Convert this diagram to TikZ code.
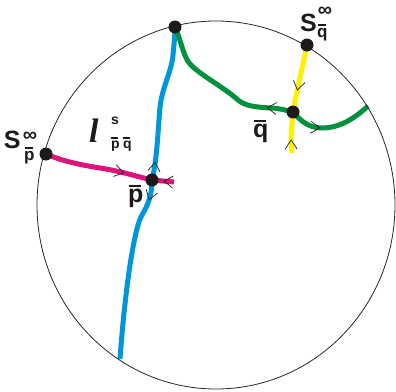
\documentclass[tikz,border=0pt]{standalone}
\usepackage{fontspec}
\setmainfont{Liberation Sans}
\newfontfamily\serifit{Liberation Serif}
\usetikzlibrary{decorations.markings}
\definecolor{cblue}{RGB}{0,150,220}
\definecolor{cgreen}{RGB}{0,145,60}
\definecolor{cmag}{RGB}{222,20,125}
\definecolor{cyel}{RGB}{255,240,0}
\definecolor{ink}{RGB}{30,26,26}
\newcommand\obar[2][0.8]{\setbox0\hbox{#2}\vbox{\offinterlineskip\hbox to \wd0{\hskip0.05\wd0\vrule height 2pt depth 0pt width #1\wd0\hfil}\kern 1.8pt\box0}}
\pgfdeclarelayer{back}
\pgfsetlayers{back,main}
\tikzset{
  dot/.style={circle,fill=ink,inner sep=0pt,minimum size=13pt},
  manifold/.style={line width=5pt},
  chev/.style={decoration={markings,mark=at position #1 with {\draw[ink,line width=0.7pt,line cap=butt,line join=miter] (-9pt,6pt) -- (0pt,0pt) -- (-9pt,-6pt);}},postaction={decorate}},
  lab/.style={inner sep=0pt,outer sep=0pt,font=\bfseries,text=ink},
}
\begin{document}
\begin{tikzpicture}[x=1pt,y=-1pt]
\useasboundingbox (0,0) rectangle (396,391);
% boundary circle
\draw[black!85,line width=0.8pt] (216,205) ellipse [x radius=179, y radius=184];
% points
\node[dot] (T) at (175,27) {};
\node[dot] (Sp) at (46,154) {};
\node[dot] (P) at (152,180) {};
\node[dot] (Q) at (293,112) {};
\node[dot] (Sq) at (307,45) {};
\coordinate (Bend) at (120,359);
\coordinate (Mend) at (174,182);
\coordinate (Gend) at (368,106);
\coordinate (Yend) at (292,153);
\begin{pgfonlayer}{back}
% blue
\draw[manifold,cblue,chev=18pt] (P.center) .. controls (157,160) and (158,130) .. (160,107) .. controls (162,88) and (172,70) .. (173,55) .. controls (174,45) and (175,35) .. (T.center);
\draw[manifold,cblue,chev=20pt] (P.center) .. controls (152,195) and (148,205) .. (142,215) .. controls (134,228) and (125,290) .. (Bend);
% magenta
\draw[manifold,cmag,chev=80pt] (Sp.center) .. controls (60,160) and (75,164) .. (100,168) .. controls (120,171) and (135,176) .. (P.center);
\draw[manifold,cmag,chev=10pt] (Mend) -- (P.center);
% green
\draw[manifold,cgreen,chev=26pt] (Q.center) .. controls (285,110) and (278,108) .. (270,108) .. controls (255,107) and (245,106) .. (238,100) .. controls (225,88) and (200,75) .. (190,64) .. controls (183,56) and (181,40) .. (T.center);
\draw[manifold,cgreen,chev=32pt] (Q.center) .. controls (300,120) and (308,128) .. (322,128) .. controls (340,128) and (355,118) .. (Gend);
% yellow
\draw[manifold,cyel,chev=46pt] (Sq.center) .. controls (303,65) and (296,95) .. (Q.center);
\draw[manifold,cyel,chev=13pt] (Yend) .. controls (290,140) and (292,125) .. (Q.center);
\end{pgfonlayer}
% labels
\node[lab,anchor=base west,font=\bfseries\fontsize{25}{25}\selectfont] (SpS) at (4,148) {S};
\node[lab,font=\bfseries\fontsize{20}{20}\selectfont] (SpInf) at (30,137) {∞};
\node[lab,anchor=base west,font=\bfseries\fontsize{17}{17}\selectfont] (SpSub) at (24,160) {\obar{p}};
\node[lab,anchor=base west,font=\bfseries\fontsize{25}{25}\selectfont] (SqS) at (300,31) {S};
\node[lab,font=\bfseries\fontsize{20}{20}\selectfont] (SqInf) at (325,12) {∞};
\node[lab,anchor=base west,font=\bfseries\fontsize{17}{17}\selectfont] (SqSub) at (317,37) {\obar{q}};
\node[lab,anchor=base west,font=\bfseries\fontsize{25}{25}\selectfont] (qLab) at (253,137) {\obar{q}};
\node[lab,anchor=base west,font=\bfseries\fontsize{25}{25}\selectfont] (pLab) at (128,202) {\obar{p}};
\node[lab,anchor=base west,font=\serifit\bfseries\itshape\fontsize{34}{34}\selectfont] (lLab) at (89,142) {l};
\node[lab,anchor=base west,font=\bfseries\fontsize{14}{14}\selectfont] (lSup) at (111,124) {s};
\node[lab,anchor=base west,font=\bfseries\fontsize{14}{14}\selectfont] (lSubP) at (111,148) {\obar{p}};
\node[lab,anchor=base west,font=\bfseries\fontsize{14}{14}\selectfont] (lSubQ) at (123,148) {\obar{q}};
\end{tikzpicture}
\end{document}
